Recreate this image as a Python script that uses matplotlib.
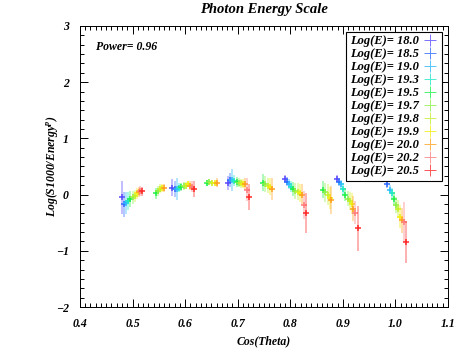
import matplotlib
matplotlib.use("Agg")
from matplotlib import pyplot as plt
from matplotlib.lines import Line2D
from matplotlib.ticker import MultipleLocator, AutoMinorLocator

energies = ["18.0", "18.5", "19.0", "19.3", "19.5", "19.7", "19.8", "19.9", "20.0", "20.2", "20.5"]
colors = ["#5a4cff", "#2f6bff", "#2fb8ff", "#1fe8c8", "#22f04a", "#8cf048",
          "#c4f02a", "#f2ee10", "#ffa11e", "#ff7f7f", "#ff2a2a"]

N = None
# one row per group of Cos(Theta) bins, one column per energy
cos_vals = [
    [0.480, 0.484, 0.488, 0.492, 0.496, 0.500, 0.504, 0.508, 0.512, 0.515, 0.518],
    [N, N, N, N, 0.545, 0.549, 0.552, 0.556, 0.559, N, N],
    [0.576, 0.580, 0.584, 0.588, 0.593, 0.597, 0.601, 0.605, 0.609, 0.613, 0.617],
    [N, N, N, N, 0.641, 0.646, 0.651, 0.656, 0.660, N, N],
    [0.681, 0.685, 0.689, 0.694, 0.698, 0.702, 0.706, 0.710, 0.714, 0.718, 0.722],
    [N, N, N, N, 0.748, 0.752, 0.757, 0.761, 0.765, N, N],
    [0.790, 0.794, 0.798, 0.802, 0.806, 0.810, 0.814, 0.818, 0.822, 0.826, 0.830],
    [N, N, N, N, 0.863, 0.867, 0.871, 0.875, 0.878, N, N],
    [0.889, 0.893, 0.897, 0.901, 0.905, 0.909, 0.913, 0.917, 0.920, 0.924, 0.928],
    [0.981, 0.985, 0.989, 0.993, 0.997, 1.001, 1.005, 1.009, 1.013, 1.017, 1.021],
]
log_vals = [
    [-0.05, -0.17, -0.15, -0.12, -0.08, -0.05, -0.02, 0.02, 0.05, 0.06, 0.06],
    [N, N, N, N, 0.02, 0.07, 0.10, 0.12, 0.12, N, N],
    [0.12, 0.10, 0.10, 0.12, 0.14, 0.15, 0.16, 0.19, 0.16, 0.14, 0.10],
    [N, N, N, N, 0.21, 0.22, 0.21, 0.20, 0.21, N, N],
    [0.21, 0.26, 0.26, 0.25, 0.23, 0.21, 0.20, 0.19, 0.19, 0.09, -0.04],
    [N, N, N, N, 0.21, 0.19, 0.16, 0.14, 0.10, N, N],
    [0.28, 0.23, 0.19, 0.14, 0.10, 0.07, 0.05, 0.03, 0.00, -0.18, -0.33],
    [N, N, N, N, 0.09, 0.04, 0.00, -0.06, -0.10, N, N],
    [0.28, 0.23, 0.18, 0.10, 0.00, -0.07, -0.12, -0.16, -0.25, -0.32, -0.60],
    [0.28, 0.19, 0.09, 0.02, -0.07, -0.18, -0.26, -0.39, -0.46, -0.49, -0.84],
]
err_vals = [
    [0.30, 0.22, 0.20, 0.16, 0.14, 0.12, 0.11, 0.10, 0.09, 0.09, 0.08],
    [N, N, N, N, 0.10, 0.09, 0.08, 0.07, 0.07, N, N],
    [0.15, 0.15, 0.20, 0.08, 0.07, 0.07, 0.06, 0.06, 0.08, 0.10, 0.15],
    [N, N, N, N, 0.05, 0.05, 0.05, 0.05, 0.08, N, N],
    [0.12, 0.12, 0.20, 0.10, 0.09, 0.08, 0.08, 0.08, 0.10, 0.20, 0.23],
    [N, N, N, N, 0.15, 0.14, 0.14, 0.15, 0.20, N, N],
    [0.07, 0.08, 0.09, 0.10, 0.12, 0.14, 0.15, 0.16, 0.18, 0.25, 0.36],
    [N, N, N, N, 0.15, 0.17, 0.18, 0.20, 0.25, N, N],
    [0.06, 0.07, 0.08, 0.10, 0.12, 0.14, 0.16, 0.18, 0.22, 0.20, 0.40],
    [0.06, 0.07, 0.08, 0.10, 0.12, 0.14, 0.16, 0.20, 0.22, 0.35, 0.37],
]

plt.rcParams["font.family"] = "Liberation Serif"
plt.rcParams["font.weight"] = "bold"
plt.rcParams["font.style"] = "italic"
plt.rcParams["axes.titleweight"] = "bold"
plt.rcParams["axes.labelweight"] = "bold"
plt.rcParams["mathtext.fontset"] = "custom"
plt.rcParams["mathtext.it"] = "Liberation Serif:bold:italic"
plt.rcParams["mathtext.rm"] = "Liberation Serif:bold:italic"

fig = plt.figure(figsize=(4.73, 3.55), dpi=100)
ax = fig.add_axes([0.169, 0.135, 0.778, 0.792])

handles = []
for k in range(len(energies)):
    xs, ys, es = [], [], []
    for g in range(len(cos_vals)):
        if cos_vals[g][k] is None:
            continue
        xs.append(cos_vals[g][k])
        ys.append(log_vals[g][k])
        es.append(err_vals[g][k])
    ax.errorbar(xs, ys, yerr=es, fmt="none", ecolor=colors[k], elinewidth=1.3,
                alpha=0.4, capsize=0)
    ax.plot(xs, ys, linestyle="none", marker="+", color=colors[k],
            markersize=4.5, markeredgewidth=1.1)
    handles.append(Line2D([], [], linestyle="none", marker="+", color=colors[k],
                          markersize=8, markeredgewidth=0.7, alpha=0.8,
                          label="Log(E)= " + energies[k]))

ax.set_xlim(0.4, 1.1)
ax.set_ylim(-2, 3)
ax.xaxis.set_major_locator(MultipleLocator(0.1))
ax.xaxis.set_minor_locator(AutoMinorLocator(10))
ax.yaxis.set_major_locator(MultipleLocator(1))
ax.yaxis.set_minor_locator(AutoMinorLocator(6))
ax.tick_params(which="both", direction="in", top=True, right=True, labelsize=8.5,
               width=0.7)
ax.tick_params(which="major", length=6, pad=8)
ax.tick_params(which="minor", length=3)
for lab in ax.get_xticklabels() + ax.get_yticklabels():
    lab.set_fontweight("bold")
    lab.set_fontstyle("italic")
for s in ax.spines.values():
    s.set_linewidth(0.7)

ax.set_title("Photon Energy Scale", fontsize=10.5, fontweight="bold", pad=9)
ax.set_xlabel("Cos(Theta)", fontsize=8.5, fontweight="bold", labelpad=4)
ax.set_ylabel("Log(S1000/Energy$^{p}$)", fontsize=8.5, fontweight="bold", labelpad=-3)
ax.text(0.43, 2.63, "Power= 0.96", fontsize=8.5, fontweight="bold", va="center")

leg = ax.legend(handles=handles, loc="upper right", markerfirst=False,
                prop={"family": "Liberation Serif", "weight": "bold",
                      "style": "italic", "size": 9},
                frameon=True, fancybox=False, edgecolor="black", framealpha=1,
                labelspacing=0.08, handletextpad=0.3, handlelength=1.3,
                borderpad=0.3, borderaxespad=0.45)
leg.get_frame().set_linewidth(0.8)

fig.savefig("out.png", dpi=100)
